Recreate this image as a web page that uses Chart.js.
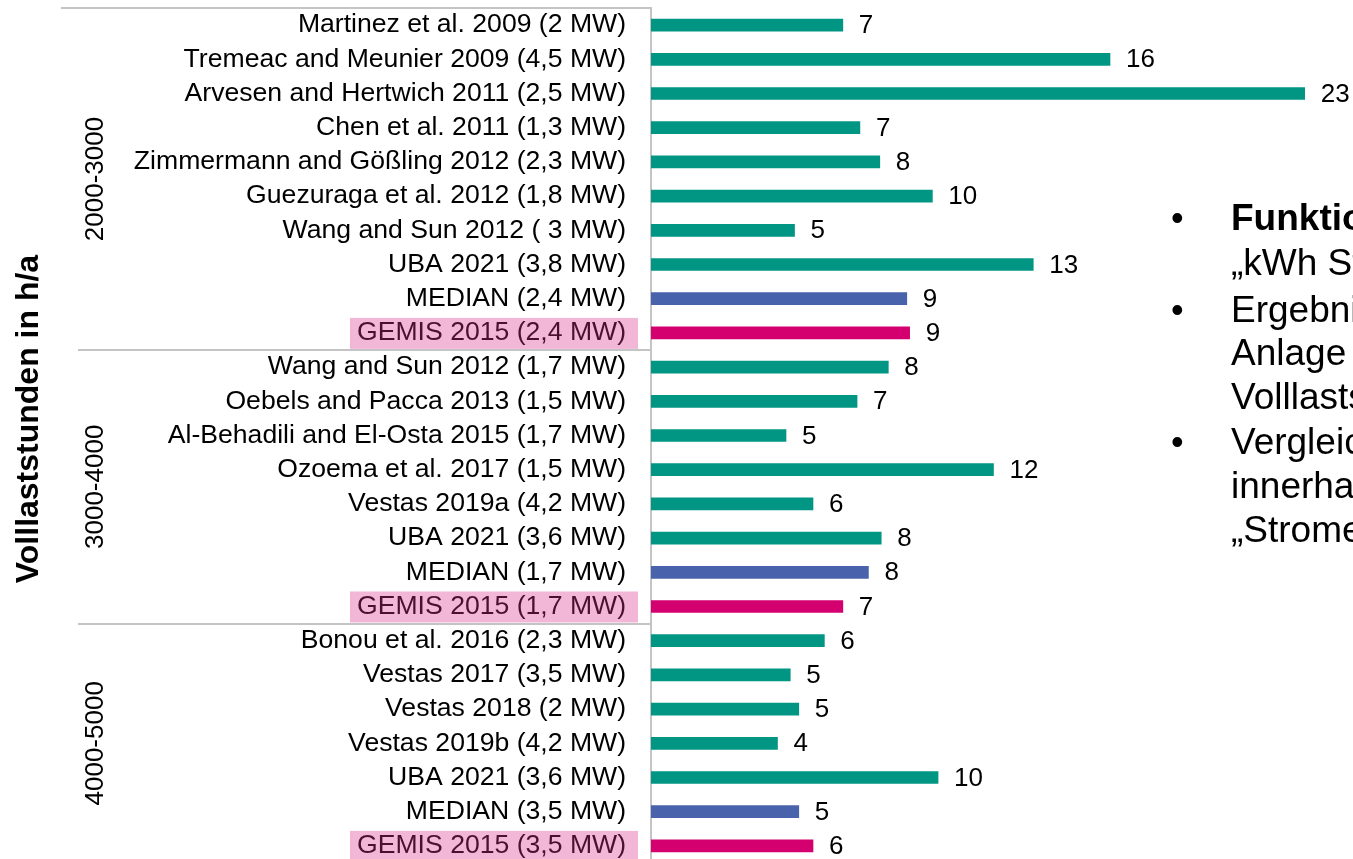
<!DOCTYPE html>
<html><head><meta charset="utf-8">
<script src="https://cdn.jsdelivr.net/npm/chart.js@4/dist/chart.umd.min.js"></script>
<style>
html,body{margin:0;padding:0;background:#fff;overflow:hidden}
#wrap{width:1353px;height:859px;overflow:hidden;position:relative;background:#fff}
</style>
</head><body>
<div id="wrap"><canvas id="c" width="1353" height="866"></canvas></div>
<script>
const categories = [
  'Martinez et al. 2009 (2 MW)',
  'Tremeac and Meunier 2009 (4,5 MW)',
  'Arvesen and Hertwich 2011 (2,5 MW)',
  'Chen et al. 2011 (1,3 MW)',
  'Zimmermann and Gößling 2012 (2,3 MW)',
  'Guezuraga et al. 2012 (1,8 MW)',
  'Wang and Sun 2012 ( 3 MW)',
  'UBA 2021 (3,8 MW)',
  'MEDIAN (2,4 MW)',
  'GEMIS 2015 (2,4 MW)',
  'Wang and Sun 2012 (1,7 MW)',
  'Oebels and Pacca 2013 (1,5 MW)',
  'Al-Behadili and El-Osta 2015 (1,7 MW)',
  'Ozoema et al. 2017 (1,5 MW)',
  'Vestas 2019a (4,2 MW)',
  'UBA 2021 (3,6 MW)',
  'MEDIAN (1,7 MW)',
  'GEMIS 2015 (1,7 MW)',
  'Bonou et al. 2016 (2,3 MW)',
  'Vestas 2017 (3,5 MW)',
  'Vestas 2018 (2 MW)',
  'Vestas 2019b (4,2 MW)',
  'UBA 2021 (3,6 MW)',
  'MEDIAN (3,5 MW)',
  'GEMIS 2015 (3,5 MW)'
];
const values = [6.75, 16.15, 23.0, 7.35, 8.05, 9.9, 5.05, 13.45, 9.0, 9.1,
                8.35, 7.25, 4.75, 12.05, 5.7, 8.1, 7.65, 6.75,
                6.1, 4.9, 5.2, 4.45, 10.1, 5.2, 5.7];
const kinds = ['s','s','s','s','s','s','s','s','m','g',
               's','s','s','s','s','s','m','g',
               's','s','s','s','s','m','g'];
const groupLabels = ['2000-3000', '3000-4000', '4000-5000'];
const groupStart = [0, 10, 18];
const groupEnd = [9, 17, 24];
const axisTitle = 'Volllaststunden in h/a';
const sideText = [
  {bullet: true,  bold: true,  text: 'Funktionelle Einheit:'},
  {bullet: false, bold: false, text: '„kWh Strom“'},
  {bullet: true,  bold: false, text: 'Ergebnisse je'},
  {bullet: false, bold: false, text: 'Anlage'},
  {bullet: false, bold: false, text: 'Volllaststunden'},
  {bullet: true,  bold: false, text: 'Vergleich'},
  {bullet: false, bold: false, text: 'innerhalb'},
  {bullet: false, bold: false, text: '„Stromerzeugung“'}
];
const sideY = [220, 265, 312, 355, 399, 444, 488, 532];

const COL = {s: '#009683', m: '#4863AC', g: '#D4006F'};
const FONT = "'Liberation Sans', Arial, sans-serif";

const deco = {
  id: 'deco',
  beforeDraw(chart) {
    const ctx = chart.ctx, y = chart.scales.y;
    ctx.save();
    ctx.fillStyle = '#F2B6D6';
    kinds.forEach((k, i) => {
      if (k === 'g') {
        const py = y.getPixelForValue(i);
        ctx.fillRect(350, py - 15, 288, 31);
      }
    });
    ctx.restore();
  },
  afterDraw(chart) {
    const ctx = chart.ctx, y = chart.scales.y, ca = chart.chartArea;
    ctx.save();
    // separators
    ctx.strokeStyle = '#C4C4C4';
    ctx.lineWidth = 2;
    ctx.beginPath();
    ctx.moveTo(61, ca.top); ctx.lineTo(ca.left, ca.top);
    for (let g = 1; g < groupStart.length; g++) {
      const py = Math.round(y.getPixelForValue(groupStart[g] - 0.5));
      ctx.moveTo(78, py); ctx.lineTo(ca.left, py);
    }
    ctx.stroke();
    // group labels
    ctx.fillStyle = '#000';
    ctx.font = '26px ' + FONT;
    ctx.textAlign = 'center';
    ctx.textBaseline = 'alphabetic';
    groupLabels.forEach((lab, g) => {
      const cy = (y.getPixelForValue(groupStart[g] - 0.5) + y.getPixelForValue(groupEnd[g] + 0.5)) / 2;
      ctx.save();
      ctx.translate(103, cy);
      ctx.rotate(-Math.PI / 2);
      ctx.fillText(lab, 0, 0);
      ctx.restore();
    });
    // axis title
    ctx.save();
    ctx.font = 'bold 32px ' + FONT;
    ctx.translate(38, 419);
    ctx.rotate(-Math.PI / 2);
    ctx.fillText(axisTitle, 0, 0);
    ctx.restore();
    // value labels
    const meta = chart.getDatasetMeta(0);
    ctx.font = '26px ' + FONT;
    ctx.textAlign = 'left';
    ctx.textBaseline = 'middle';
    meta.data.forEach((bar, i) => {
      ctx.fillText(String(Math.round(values[i])), bar.x + 16, bar.y + 1);
    });
    // side text
    sideText.forEach((row, i) => {
      if (row.bullet) {
        ctx.font = '36px ' + FONT;
        ctx.fillText('•', 1171, sideY[i]);
      }
      ctx.font = (row.bold ? 'bold ' : '') + '37px ' + FONT;
      ctx.fillText(row.text, 1231, sideY[i]);
    });
    ctx.restore();
  }
};

new Chart(document.getElementById('c'), {
  type: 'bar',
  data: {
    labels: categories,
    datasets: [{
      data: values,
      backgroundColor: kinds.map(k => COL[k]),
      borderWidth: 0,
      barThickness: 12
    }]
  },
  options: {
    indexAxis: 'y',
    responsive: false,
    animation: false,
    layout: {padding: {top: 8, bottom: 3, left: 0, right: 0}},
    plugins: {legend: {display: false}, tooltip: {enabled: false}, title: {display: false}},
    scales: {
      x: {display: false, min: 0, max: 24.7},
      y: {
        position: 'left',
        grid: {display: false, drawTicks: false},
        border: {display: true, color: '#C4C4C4', width: 2},
        ticks: {
          autoSkip: false,
          padding: 25,
          font: {family: FONT, size: 26.6},
          color: (c) => kinds[c.index] === 'g' ? '#4A1030' : '#000'
        },
        afterFit(scale) {
          scale.width = 651;
          scale.paddingTop = 0;
          scale.paddingBottom = 0;
        }
      }
    }
  },
  plugins: [deco]
});
</script>
</body></html>
